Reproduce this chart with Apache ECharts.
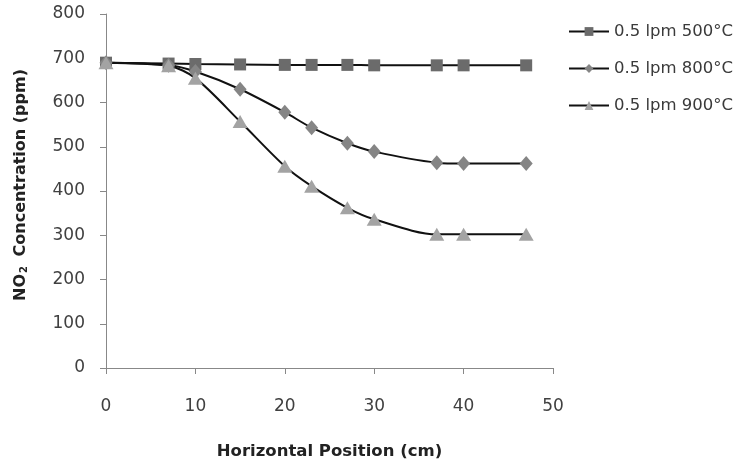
<!DOCTYPE html>
<html>
<head>
<meta charset="utf-8">
<script src="https://cdn.jsdelivr.net/npm/echarts@6/dist/echarts.min.js"></script>
<style>
  html, body { margin: 0; padding: 0; background: #fff; }
  #chart { width: 739px; height: 465px; }
</style>
</head>
<body>
<div id="chart"></div>
<script>
// Sampling positions along the tube (cm)
const positions = [0, 7, 10, 15, 20, 23, 27, 30, 37, 40, 47];

// NO2 concentration (ppm) at each position
const no2_500C = [690, 688, 687, 686, 685, 685, 685, 684, 684, 684, 684];
const no2_800C = [690, 684, 670, 630, 578, 543, 508, 489, 464, 462, 462];
const no2_900C = [690, 683, 655, 557, 456, 411, 362, 336, 302, 302, 302];

const seriesNames = ['0.5 lpm 500°C', '0.5 lpm 800°C', '0.5 lpm 900°C'];

const yTicks = [0, 100, 200, 300, 400, 500, 600, 700, 800];
const xTicks = [0, 10, 20, 30, 40, 50];

const labelFont = '"DejaVu Sans", sans-serif';

function pairs(xs, ys) {
  return xs.map((x, i) => [x, ys[i]]);
}

function makeSeries(name, values, symbol, size, color) {
  return {
    name: name,
    type: 'line',
    data: pairs(positions, values),
    smooth: 0.3,
    symbol: symbol,
    symbolSize: size,
    lineStyle: { color: '#111', width: 2 },
    itemStyle: { color: color, opacity: 1 },
    emphasis: { disabled: true },
    z: 2
  };
}

const chart = echarts.init(document.getElementById('chart'), null, { renderer: 'canvas' });

chart.setOption({
  animation: false,
  backgroundColor: '#fff',
  grid: { left: 106, right: 186, top: 14, bottom: 96, containLabel: false },
  legend: {
    orient: 'vertical',
    left: 568,
    top: 23,
    padding: 0,
    itemGap: 20,
    itemWidth: 40,
    itemHeight: 11,
    data: seriesNames,
    textStyle: { fontFamily: labelFont, fontSize: 16.5, color: '#3a3a3a' }
  },
  xAxis: {
    type: 'value',
    min: 0,
    max: 50,
    interval: 10,
    name: 'Horizontal Position (cm)',
    nameLocation: 'middle',
    nameGap: 75,
    nameTextStyle: { fontFamily: labelFont, fontSize: 16.5, fontWeight: 'bold', color: '#222' },
    axisLine: { show: true, onZero: false, lineStyle: { color: '#888', width: 1 } },
    axisTick: { show: true, length: 6, inside: false, lineStyle: { color: '#888' } },
    axisLabel: {
      margin: 30,
      fontFamily: labelFont,
      fontSize: 17,
      color: '#404040',
      formatter: v => (xTicks.includes(v) ? String(v) : '')
    },
    splitLine: { show: false }
  },
  yAxis: {
    type: 'value',
    min: 0,
    max: 800,
    interval: 100,
    name: '{main|NO}{sub|2}{main| Concentration (ppm)}',
    nameLocation: 'middle',
    nameGap: 77,
    nameRotate: 90,
    nameTextStyle: {
      fontFamily: labelFont, fontSize: 16, fontWeight: 'bold', color: '#222',
      padding: [0, 0, 0, 12],
      rich: {
        main: { fontFamily: labelFont, fontSize: 16, fontWeight: 'bold', color: '#222' },
        sub: { fontFamily: labelFont, fontSize: 10, fontWeight: 'bold', color: '#222', verticalAlign: 'bottom', padding: [7, 4, 0, 1] }
      }
    },
    axisLine: { show: true, lineStyle: { color: '#888', width: 1 } },
    axisTick: { show: true, length: 6, inside: false, lineStyle: { color: '#888' } },
    axisLabel: {
      margin: 21,
      fontFamily: labelFont,
      fontSize: 17,
      color: '#404040',
      formatter: v => (yTicks.includes(v) ? String(v) : '')
    },
    splitLine: { show: false }
  },
  series: [
    makeSeries(seriesNames[0], no2_500C, 'rect', 12, '#6b6b6b'),
    makeSeries(seriesNames[1], no2_800C, 'diamond', [13, 15], '#858585'),
    makeSeries(seriesNames[2], no2_900C, 'triangle', [15, 13], '#a3a3a3')
  ]
});
</script>
</body>
</html>
